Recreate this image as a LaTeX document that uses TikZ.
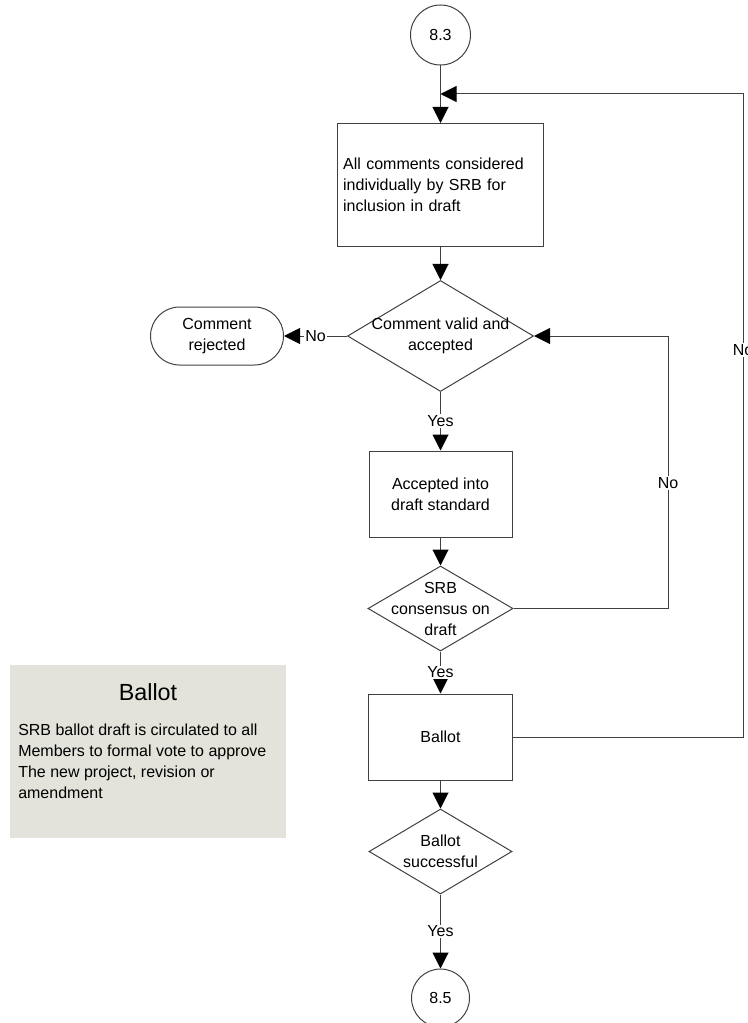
\documentclass[tikz,border=0pt]{standalone}
\usepackage{fontspec}
\setmainfont{Liberation Sans}
\usetikzlibrary{arrows.meta}
\usetikzlibrary{shapes.geometric}
\definecolor{notegray}{RGB}{227,227,219}

\begin{document}
\begin{tikzpicture}[>={Triangle[length=12pt,width=12pt,color=black]}, x=0.75pt, y=-0.75pt]
	\tikzset{every node/.style={font=\fontsize{12}{15.75}\selectfont}}
	\tikzset{line/.style={draw=black!75, line width=0.75pt}}
	\tikzset{box/.style={line, rectangle, inner sep=0pt, align=center}}
	\tikzset{decision/.style={line, diamond, inner sep=0pt}}
	\tikzset{connector/.style={line, circle, inner sep=0pt}}
	\tikzset{lbl/.style={fill=white, inner sep=1pt}}
	\pgfmathsetmacro{\Xc}{440.5};
	\pgfmathsetmacro{\Xr}{743};
	\pgfmathsetmacro{\Xb}{668};
	\useasboundingbox (0,0) rectangle (747,1023);

	\node[connector, minimum size=45pt] (c83) at (\Xc,35) {8.3};
	\node[box, minimum width=154.5pt, minimum height=92.25pt, text width=146pt, align=left] (consider) at (\Xc,185) {All comments considered\\individually by SRB for\\inclusion in draft};
	\node[decision, minimum width=139.5pt, minimum height=83.25pt, label={[align=center]center:Comment valid and\\accepted}] (valid) at (\Xc,336) {};
	\node[box, rounded corners=21.75pt, minimum width=99.75pt, minimum height=43.5pt] (rejected) at (217,336) {Comment\\rejected};
	\node[box, minimum width=107.25pt, minimum height=64.5pt] (accepted) at (\Xc,494) {Accepted into\\draft standard};
	\node[decision, minimum width=108.75pt, minimum height=63.75pt, label={[align=center]center:SRB\\consensus on\\draft}] (consensus) at (\Xc,608.5) {};
	\node[box, minimum width=108pt, minimum height=64.5pt] (ballot) at (\Xc,737) {Ballot};
	\node[decision, minimum width=107.25pt, minimum height=63.75pt, label={[align=center]center:Ballot\\successful}] (success) at (\Xc,851.5) {};
	\node[connector, minimum size=43.5pt] (c85) at (\Xc,998) {8.5};

	\node[fill=notegray, minimum width=207pt, minimum height=129.75pt, inner sep=0pt] (note) at (148,751.5) {};
	\node[font=\fontsize{17.5}{21}\selectfont] (notetitle) at (148,692) {Ballot};
	\node[anchor=north west, align=left, inner sep=0pt] (notebody) at (18,724) {SRB ballot draft is circulated to all\\Members to formal vote to approve\\The new project, revision or\\amendment};

	\coordinate (join) at (\Xc,94);
	\coordinate (noloop) at (\Xr,350);
	\coordinate (noback) at (\Xb,483);

	\draw[line,->] (c83.south) -- (consider.north);
	\draw[line,->] (consider.south) -- (valid.north);
	\draw[line,->] (valid.west) -- node[lbl] {No} (rejected.east);
	\draw[line,->] (valid.south) -- node[lbl] {Yes} (accepted.north);
	\draw[line,->] (accepted.south) -- (consensus.north);
	\draw[line,->] (consensus.east) -| (noback) node[lbl] {No} |- (valid.east);
	\draw[line,->] (consensus.south) -- node[lbl] {Yes} (ballot.north);
	\draw[line,->] (ballot.east) -| (noloop) node[lbl] {No} |- (join);
	\draw[line,->] (ballot.south) -- (success.north);
	\draw[line,->] (success.south) -- node[lbl] {Yes} (c85.north);
\end{tikzpicture}
\end{document}
